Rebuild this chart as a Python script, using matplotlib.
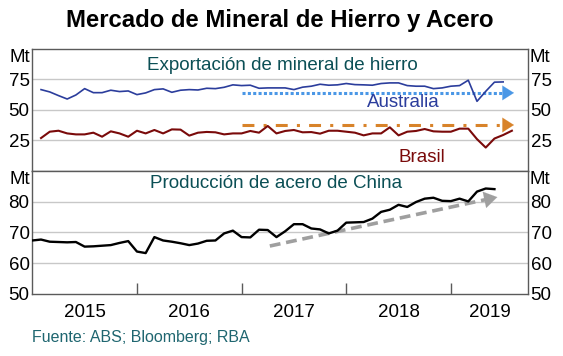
import matplotlib
matplotlib.use('Agg')
import matplotlib.pyplot as plt
import numpy as np

plt.rcParams['font.family'] = ['Liberation Sans', 'DejaVu Sans']

# Monthly data, Mt
australia = [66.7, 64.8, 61.8, 59.0, 62.3, 67.5, 64.2, 64.2, 66.2, 65.1, 65.6, 62.6,
             64.0, 66.7, 67.3, 64.5, 66.2, 66.7, 66.4, 67.8, 67.5, 68.6, 70.6, 70.0,
             70.3, 67.8, 68.1, 68.1, 68.1, 66.7, 68.7, 69.5, 71.1, 70.3, 70.6, 71.7,
             70.8, 70.6, 70.3, 71.7, 72.2, 72.2, 70.0, 69.5, 69.5, 67.5, 68.1, 69.5,
             70.0, 74.4, 57.1, 65.3, 72.8, 73.0]
brasil = [27.0, 32.2, 33.0, 30.8, 30.0, 30.0, 31.4, 28.1, 32.5, 30.8, 28.1, 33.0,
          30.8, 33.6, 30.8, 34.1, 33.9, 29.0, 31.4, 32.0, 31.7, 30.0, 30.8, 30.8,
          32.8, 31.4, 36.9, 30.8, 32.8, 33.6, 31.7, 31.9, 30.6, 33.0, 33.0, 32.2,
          31.4, 29.2, 30.8, 30.8, 35.8, 29.2, 32.2, 32.8, 34.4, 32.5, 32.2, 32.2,
          34.7, 34.7, 26.1, 19.2, 26.6, 29.5, 33.0]
china = [67.4, 67.7, 67.0, 66.9, 66.8, 66.9, 65.4, 65.5, 65.7, 65.9, 66.6, 67.2,
         63.8, 63.3, 68.5, 67.4, 67.0, 66.5, 65.9, 66.4, 67.3, 67.4, 69.7, 70.6,
         68.5, 68.4, 70.9, 70.8, 68.5, 70.4, 72.7, 72.7, 71.3, 71.0, 69.7, 70.6,
         73.2, 73.3, 73.4, 74.5, 76.7, 77.4, 79.0, 78.3, 79.9, 81.0, 81.3, 80.3,
         80.2, 81.0, 80.1, 83.3, 84.3, 84.1]
years = [2015, 2016, 2017, 2018, 2019]

# trend arrows (start, end) as (year, Mt)
arrow_aus = [(2017.0, 64.0), (2019.63, 64.0)]
arrow_bra = [(2017.0, 37.7), (2019.63, 37.7)]
arrow_chn = [(2017.27, 65.6), (2019.47, 81.7)]

# trade series start Jan-2015 month end, China series starts at Jan-2015
x_trade = 2015 + (np.arange(len(brasil)) + 1) / 12
x_china = 2015 + np.arange(len(china)) / 12

teal = '#0b4f55'
blue = '#2b3d9c'
red = '#7a0a0a'
spine_c = '#5a5a5a'
fs = 13.5
xmin, xmax = 2015.0, 2019.735

fig = plt.figure(figsize=(5.63, 3.56), dpi=100)
ax1 = fig.add_axes([0.0574, 0.5197, 0.8800, 0.3427])
ax2 = fig.add_axes([0.0574, 0.1742, 0.8800, 0.3455])


def style(ax, ymin, ymax, ticks, grid):
    ax.set_xlim(xmin, xmax)
    ax.set_ylim(ymin, ymax)
    ax.set_yticks(ticks)
    ax.set_yticklabels([str(t) for t in ticks])
    for g in grid:
        ax.axhline(g, color='#c8c8c8', lw=1.0, zorder=0)
    for s in ax.spines.values():
        s.set_color(spine_c)
        s.set_linewidth(1.0)
    ax.tick_params(axis='y', which='both', length=0, labelsize=fs, pad=2,
                   left=True, right=True, labelleft=True, labelright=True)
    ax.text(-0.004, 0.93, 'Mt', transform=ax.transAxes, ha='right', va='center', fontsize=fs)
    ax.text(1.004, 0.93, 'Mt', transform=ax.transAxes, ha='left', va='center', fontsize=fs)


def trend(ax, pts, color, lw, dashes, head):
    (x0, y0), (x1, y1) = pts
    # shorten the line a bit so the head sits at the tip
    f = 0.97
    xe, ye = x0 + (x1 - x0) * f, y0 + (y1 - y0) * f
    ax.plot([x0, xe], [y0, ye], color=color, lw=lw, dashes=dashes,
            solid_capstyle='butt', dash_capstyle='butt', zorder=2)
    ax.annotate('', xy=(x1, y1), xytext=(xe, ye),
                arrowprops=dict(arrowstyle='-|>,head_length=0.55,head_width=0.35',
                                color=color, lw=0.1, mutation_scale=head), zorder=2)


# top panel: iron ore exports
style(ax1, 0, 100, [25, 50, 75], [25, 50, 75])
ax1.set_xticks([])
ax1.plot(x_trade[:len(australia)], australia, color=blue, lw=1.2, zorder=3)
ax1.plot(x_trade, brasil, color=red, lw=1.5, zorder=3)
trend(ax1, arrow_aus, '#4a97e6', 2.2, (1, 0.75), 15)
trend(ax1, arrow_bra, '#d8832a', 2.2, (3.9, 3, 1, 3), 15)
ax1.text(2017.39, 86.7, 'Exportación de mineral de hierro', color=teal,
         ha='center', va='center', fontsize=fs)
ax1.text(2018.55, 56.1, 'Australia', color=blue, ha='center', va='center', fontsize=fs)
ax1.text(2018.72, 11.4, 'Brasil', color=red, ha='center', va='center', fontsize=fs)

# bottom panel: China steel production
style(ax2, 50, 90, [50, 60, 70, 80], [60, 70, 80])
ax2.plot(x_china, china, color='black', lw=1.7, zorder=3)
trend(ax2, arrow_chn, '#9f9f9f', 2.6, (3, 1.6), 17)
ax2.text(2017.33, 85.8, 'Producción de acero de China', color=teal,
         ha='center', va='center', fontsize=fs)
ax2.set_xticks(years[1:])
ax2.set_xticklabels([])
ax2.set_xticks([y + 0.5 for y in years[:-1]] + [2019.37], minor=True)
ax2.set_xticklabels([str(y) for y in years], minor=True)
ax2.tick_params(axis='x', which='major', direction='in', length=8, color=spine_c, width=1)
ax2.tick_params(axis='x', which='minor', length=0, labelsize=fs, pad=7)

fig.text(0.497, 0.942, 'Mercado de Mineral de Hierro y Acero', ha='center', va='center',
         fontsize=17.2, fontweight='bold')
fig.text(0.056, 0.051, 'Fuente: ABS; Bloomberg; RBA', ha='left', va='center',
         fontsize=11.5, color='#1f6670')

fig.savefig('out.png', dpi=100)
